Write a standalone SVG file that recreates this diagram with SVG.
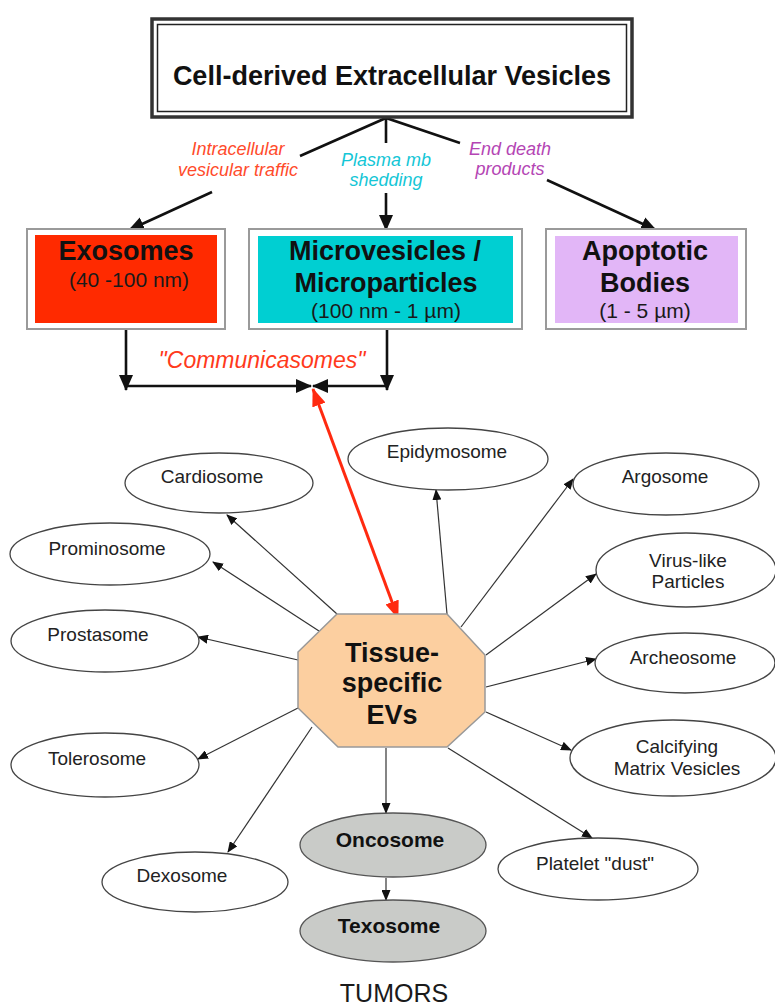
<svg xmlns="http://www.w3.org/2000/svg" width="775" height="1005" viewBox="0 0 775 1005">
<defs>
<style>
text{font-family:"Liberation Sans",Arial,sans-serif;}
.b{font-weight:bold;fill:#111;text-anchor:middle;}
.r{fill:#1a1a1a;text-anchor:middle;}
.ell{fill:#fff;stroke:#444;stroke-width:1.3;}
.gell{fill:#c9cbc8;stroke:#555;stroke-width:1.3;}
.lbl{font-size:19px;fill:#222;text-anchor:middle;}
.thin{stroke:#333;stroke-width:1.2;fill:none;marker-end:url(#ah);}
.thick{stroke:#111;stroke-width:2.6;fill:none;}
.ta{marker-end:url(#AH);}
.box{fill:#fff;stroke:#9a9a9a;stroke-width:2;}
.it{font-style:italic;font-size:18px;text-anchor:middle;}
</style>
<marker id="ah" markerUnits="userSpaceOnUse" markerWidth="11" markerHeight="9" refX="10" refY="4.5" orient="auto"><path d="M0,0 L11,4.5 L0,9 z" fill="#111"/></marker>
<marker id="AH" markerUnits="userSpaceOnUse" markerWidth="16" markerHeight="14" refX="15" refY="7" orient="auto"><path d="M0,0 L16,7 L0,14 z" fill="#111"/></marker>
<marker id="RH" markerUnits="userSpaceOnUse" markerWidth="18" markerHeight="14" refX="17" refY="7" orient="auto-start-reverse"><path d="M0,0 L18,7 L0,14 z" fill="#ff2a10"/></marker>
</defs>

<g id="connectors">
  <polyline class="thick" points="300,156 386,118 460,143"/>
  <line class="thick" x1="386" y1="118" x2="386" y2="143"/>
  <line class="thick ta" x1="212" y1="192" x2="129" y2="230"/>
  <line class="thick ta" x1="386" y1="193" x2="386" y2="230"/>
  <line class="thick ta" x1="547" y1="180" x2="656" y2="230"/>
  <line class="thick ta" x1="126" y1="329" x2="126" y2="390"/>
  <line class="thick ta" x1="387" y1="329" x2="387" y2="390"/>
  <line class="thick ta" x1="126" y1="386" x2="311" y2="386"/>
  <line class="thick ta" x1="387" y1="386" x2="313" y2="386"/>
  <line stroke="#ff2a10" stroke-width="3" marker-start="url(#RH)" marker-end="url(#RH)" x1="313" y1="389" x2="398" y2="618"/>
  <line class="thin" x1="337" y1="614" x2="227" y2="515"/>
  <line class="thin" x1="319" y1="631" x2="213" y2="562"/>
  <line class="thin" x1="298" y1="660" x2="198" y2="637"/>
  <line class="thin" x1="447" y1="614" x2="436" y2="490"/>
  <line class="thin" x1="461" y1="627" x2="573" y2="479"/>
  <line class="thin" x1="486" y1="655" x2="596" y2="574"/>
  <line class="thin" x1="486" y1="687" x2="596" y2="659"/>
  <line class="thin" x1="486" y1="712" x2="571" y2="750"/>
  <line class="thin" x1="448" y1="748" x2="592" y2="838"/>
  <line class="thin" x1="386" y1="748" x2="386" y2="813"/>
  <line class="thin" x1="386" y1="878" x2="386" y2="900"/>
  <line class="thin" x1="312" y1="727" x2="228" y2="852"/>
  <line class="thin" x1="298" y1="708" x2="198" y2="759"/>
</g>

<g id="labels">
  <text class="it" x="238" y="155" fill="#ff4b2b">Intracellular</text>
  <text class="it" x="238" y="176" fill="#ff4b2b">vesicular traffic</text>
  <text class="it" x="386" y="166" fill="#14c6d6">Plasma mb</text>
  <text class="it" x="386" y="186" fill="#14c6d6">shedding</text>
  <text class="it" x="510" y="155" fill="#b445b4">End death</text>
  <text class="it" x="510" y="175" fill="#b445b4">products</text>
  <text class="it" x="262" y="368" fill="#ff3a1c" style="font-size:23px">"Communicasomes"</text>
</g>

<g id="cell-derived-ev">
  <rect x="152" y="19" width="480" height="98" fill="#fff" stroke="#333" stroke-width="3.5"/>
  <rect x="157.5" y="24.5" width="469" height="87" fill="none" stroke="#222" stroke-width="1.5"/>
  <text class="b" x="392" y="85" style="font-size:27px">Cell-derived Extracellular Vesicles</text>
</g>

<g id="exosomes">
  <rect class="box" x="27" y="229" width="198" height="100"/>
  <rect x="35" y="235" width="182" height="88" fill="#ff2a00"/>
  <text class="b" x="126" y="260" style="font-size:27px">Exosomes</text>
  <text class="r" x="129" y="287" style="font-size:21px">(40 -100 nm)</text>
</g>

<g id="microvesicles">
  <rect class="box" x="249" y="229" width="273" height="100"/>
  <rect x="258" y="236" width="255" height="87" fill="#00cfd2"/>
  <text class="b" x="385" y="260" style="font-size:27px">Microvesicles /</text>
  <text class="b" x="386" y="292" style="font-size:27px">Microparticles</text>
  <text class="r" x="386" y="318" style="font-size:21px">(100 nm - 1 µm)</text>
</g>

<g id="apoptotic">
  <rect class="box" x="546" y="229" width="200" height="100"/>
  <rect x="555" y="236" width="183" height="87" fill="#e2b6f7"/>
  <text class="b" x="645" y="260" style="font-size:27px">Apoptotic</text>
  <text class="b" x="645" y="292" style="font-size:27px">Bodies</text>
  <text class="r" x="645" y="318" style="font-size:21px">(1 - 5 µm)</text>
</g>

<g id="tissue-specific">
  <polygon points="337,614 447,614 485,655 485,712 447,747 338,747 298,708 298,652" fill="#fccfa0" stroke="#999" stroke-width="1.5"/>
  <text class="b" x="392" y="662" style="font-size:27px">Tissue-</text>
  <text class="b" x="392" y="692" style="font-size:27px">specific</text>
  <text class="b" x="392" y="724" style="font-size:27px">EVs</text>
</g>

<g id="cardiosome"><ellipse class="ell" cx="219" cy="483" rx="94" ry="30"/><text class="lbl" x="212" y="483">Cardiosome</text></g>
<g id="epidymosome"><ellipse class="ell" cx="448" cy="459" rx="100" ry="31"/><text class="lbl" x="447" y="458">Epidymosome</text></g>
<g id="argosome"><ellipse class="ell" cx="666" cy="484" rx="93" ry="31"/><text class="lbl" x="665" y="483">Argosome</text></g>
<g id="prominosome"><ellipse class="ell" cx="110" cy="554" rx="100" ry="31"/><text class="lbl" x="107" y="555">Prominosome</text></g>
<g id="virus-like"><ellipse class="ell" cx="686" cy="570" rx="90" ry="37"/><text class="lbl" x="688" y="567">Virus-like</text><text class="lbl" x="688" y="588">Particles</text></g>
<g id="prostasome"><ellipse class="ell" cx="105" cy="641" rx="94" ry="31"/><text class="lbl" x="98" y="641">Prostasome</text></g>
<g id="archeosome"><ellipse class="ell" cx="685" cy="663" rx="90" ry="30"/><text class="lbl" x="683" y="664">Archeosome</text></g>
<g id="tolerosome"><ellipse class="ell" cx="105" cy="765" rx="94" ry="32"/><text class="lbl" x="97" y="765">Tolerosome</text></g>
<g id="calcifying"><ellipse class="ell" cx="673" cy="758" rx="103" ry="38"/><text class="lbl" x="677" y="753">Calcifying</text><text class="lbl" x="677" y="775">Matrix Vesicles</text></g>
<g id="dexosome"><ellipse class="ell" cx="195" cy="882" rx="93" ry="30"/><text class="lbl" x="182" y="882">Dexosome</text></g>
<g id="oncosome"><ellipse class="gell" cx="393" cy="845" rx="93" ry="32"/><text class="b" x="390" y="847" style="font-size:21px">Oncosome</text></g>
<g id="texosome"><ellipse class="gell" cx="393" cy="931" rx="93" ry="31"/><text class="b" x="389" y="933" style="font-size:21px">Texosome</text></g>
<g id="platelet-dust"><ellipse class="ell" cx="598" cy="869" rx="100" ry="31"/><text class="lbl" x="595" y="870">Platelet "dust"</text></g>
<g id="tumors"><text class="r" x="394" y="1002" style="font-size:25px">TUMORS</text></g>
</svg>
